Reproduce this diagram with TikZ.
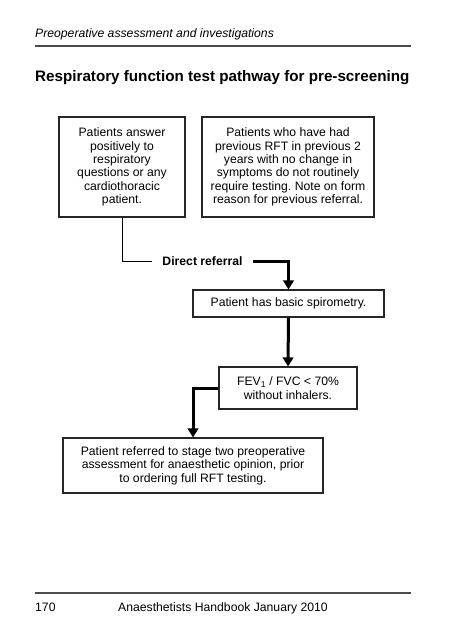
\documentclass[tikz,border=0pt]{standalone}
\usepackage{fontspec}
\setmainfont{Liberation Sans}
\usetikzlibrary{arrows.meta}
\frenchspacing
\tikzset{
  box/.style={draw=black!85, line width=1.1pt, align=center, inner sep=0pt,
    font=\fontsize{12.2}{13.4}\selectfont},
  thin/.style={draw=black, line width=1pt},
  thick/.style={draw=black, line width=3pt, -{Triangle[width=10.5pt,length=9pt]}},
  rule/.style={draw=black!70, line width=1.2pt},
  page/.style={inner sep=0pt, anchor=base west}
}
\begin{document}
\begin{tikzpicture}[x=1pt,y=-1pt]
\useasboundingbox (0,0) rectangle (453,640);
% header
\node[page, font=\fontsize{12.2}{14}\selectfont\itshape] (hdr) at (35,37.5) {Preoperative assessment and investigations};
\coordinate (hl1) at (35,46); \coordinate (hl2) at (411,46);
\draw[rule] (hl1) -- (hl2);
\node[page, font=\fontsize{15.2}{18}\selectfont\bfseries] (title) at (35,81.5) {Respiratory function test pathway for pre-screening};
% boxes
\node[box, minimum width=126pt, minimum height=100pt] (b1) at (122,167)
  {Patients answer\\positively to\\respiratory\\questions or any\\cardiothoracic\\patient.};
\node[box, minimum width=172pt, minimum height=100pt] (b2) at (288,167)
  {Patients who have had\\previous RFT in previous 2\\years with no change in\\symptoms do not routinely\\require testing. Note on form\\reason for previous referral.};
\node[inner xsep=10pt, inner ysep=2pt, font=\fontsize{12.2}{14}\selectfont\bfseries] (dr) at (202.5,261) {Direct referral};
\node[box, minimum width=191pt, minimum height=27pt] (b3) at (288.5,303.5)
  {Patient has basic spirometry.};
\node[box, minimum width=138pt, minimum height=42pt] (b4) at (288,388)
  {FEV\textsubscript{1} / FVC < 70\%\\without inhalers.};
\node[box, minimum width=260pt, minimum height=55pt] (b5) at (193,465.5)
  {Patient referred to stage two preoperative\\assessment for anaesthetic opinion, prior\\to ordering full RFT testing.};
% connectors
\draw[thin] (b1.south) |- (dr.west);
\draw[thick] (dr.east) -| (b3.north);
\draw[thick] (b3.south) -- (b4.north);
\draw[thick] (b4.west) -| (b5.north);
% footer
\coordinate (fl1) at (35,593); \coordinate (fl2) at (411,593);
\draw[rule] (fl1) -- (fl2);
\node[page, font=\fontsize{12.2}{14}\selectfont] (pg) at (35,611) {170};
\node[page, font=\fontsize{12.2}{14}\selectfont] (ft) at (118,611) {Anaesthetists Handbook January 2010};
\end{tikzpicture}
\end{document}
